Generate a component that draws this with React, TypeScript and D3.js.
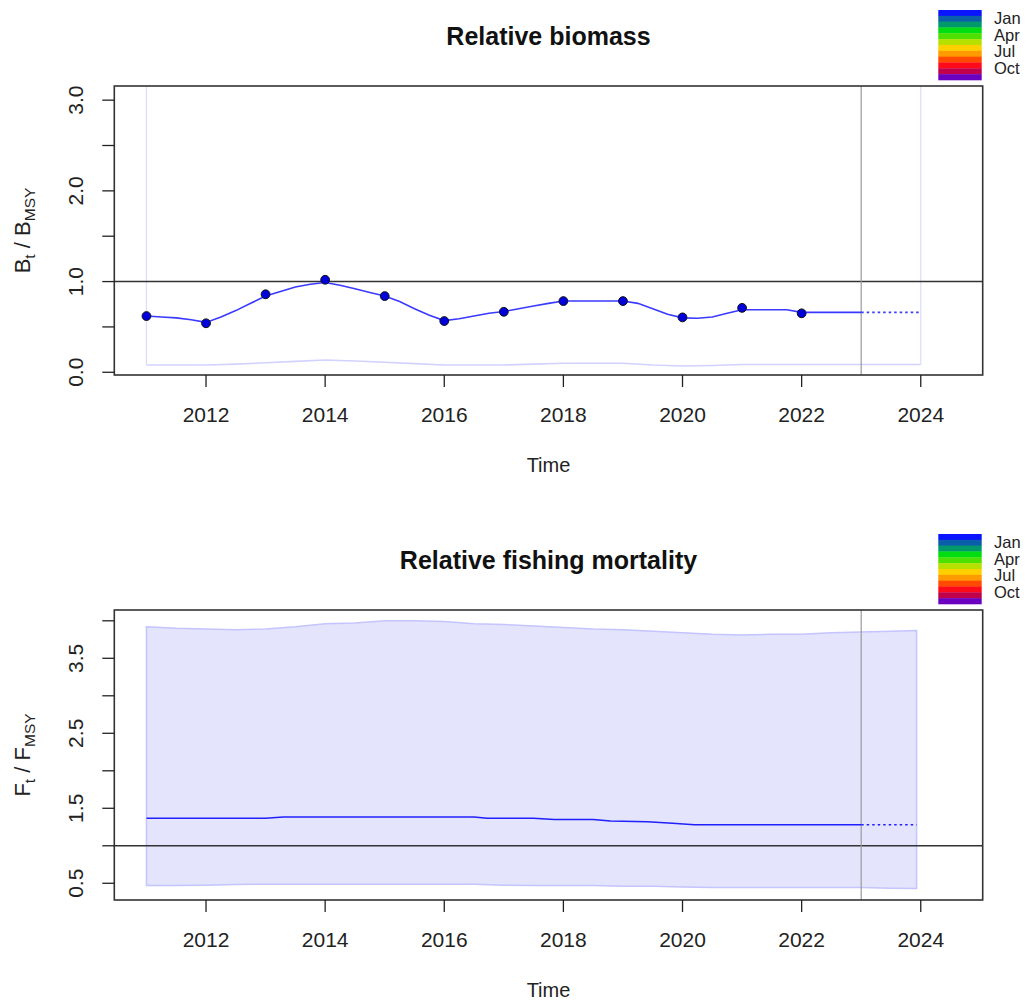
import React from "react";
import * as d3 from "d3";

// ---------- DATA ----------
const monthLabels = ["Jan", "Apr", "Jul", "Oct"];
const monthColors = [
  "#0a14ff", "#0a5fa8", "#009a6a", "#00dd10", "#4ee000", "#b6e000",
  "#ffd000", "#ff9a00", "#ff4a00", "#ff0a1a", "#c0004a", "#6a00c0",
];

const bioYears = [2011, 2012, 2013, 2014, 2015, 2016, 2017, 2018, 2019, 2020, 2021, 2022];
const bioPoints = [0.62, 0.54, 0.86, 1.02, 0.84, 0.565, 0.667, 0.785, 0.785, 0.605, 0.71, 0.65];

const bioLineTimes = d3.range(2011, 2023.001, 0.25);
const bioLine = [
  0.62, 0.61, 0.6, 0.58,
  0.55, 0.61, 0.68, 0.76,
  0.84, 0.89, 0.94, 0.97,
  0.99, 0.96, 0.92, 0.88,
  0.84, 0.78, 0.7, 0.63,
  0.57, 0.59, 0.62, 0.65,
  0.67, 0.7, 0.73, 0.76,
  0.785, 0.785, 0.785, 0.785,
  0.785, 0.76, 0.7, 0.64,
  0.6, 0.595, 0.61, 0.65,
  0.69, 0.69, 0.69, 0.69,
  0.66, 0.66, 0.66, 0.66,
  0.66,
];
const bioForecastTimes = [2023, 2024];
const bioForecast = [0.66, 0.66];

const bioCITimes = [
  2011, 2011.5, 2012, 2012.5, 2013, 2013.5, 2014, 2014.5, 2015, 2015.5, 2016, 2016.5,
  2017, 2017.5, 2018, 2018.5, 2019, 2019.5, 2020, 2020.5, 2021, 2021.5, 2022, 2022.5,
  2023, 2023.5, 2024,
];
const bioLower = [
  0.08, 0.08, 0.08, 0.09, 0.105, 0.12, 0.135, 0.125, 0.11, 0.095, 0.08, 0.08,
  0.08, 0.09, 0.1, 0.1, 0.1, 0.08, 0.07, 0.075, 0.085, 0.085, 0.085, 0.085,
  0.085, 0.085, 0.085,
];

const fCITimes = [
  2011, 2011.5, 2012, 2012.5, 2013, 2013.5, 2014, 2014.5, 2015, 2015.5, 2016, 2016.5,
  2017, 2017.5, 2018, 2018.5, 2019, 2019.5, 2020, 2020.5, 2021, 2021.5, 2022, 2022.5,
  2023, 2023.5, 2023.93,
];
const fUpper = [
  3.92, 3.9, 3.89, 3.88, 3.89, 3.92, 3.96, 3.97, 4.0, 4.0, 3.99, 3.96,
  3.95, 3.93, 3.91, 3.89, 3.88, 3.86, 3.84, 3.82, 3.81, 3.82, 3.82, 3.84,
  3.85, 3.86, 3.87,
];
const fLower = [
  0.47, 0.47, 0.475, 0.485, 0.487, 0.487, 0.487, 0.487, 0.487, 0.487, 0.487, 0.487,
  0.475, 0.47, 0.47, 0.47, 0.46, 0.46, 0.45, 0.445, 0.445, 0.445, 0.445, 0.445,
  0.445, 0.435, 0.43,
];
const fLineTimes = [
  2011, 2011.5, 2012, 2012.5, 2013, 2013.3, 2013.5, 2014, 2014.5, 2015, 2015.5, 2016,
  2016.5, 2016.72, 2017, 2017.5, 2017.85, 2018.5, 2018.79, 2019.41, 2019.83, 2020.2,
  2021, 2022, 2023,
];
const fLine = [
  1.367, 1.367, 1.367, 1.367, 1.367, 1.384, 1.384, 1.384, 1.384, 1.384, 1.384, 1.384,
  1.384, 1.367, 1.367, 1.367, 1.35, 1.35, 1.33, 1.32, 1.3, 1.28,
  1.28, 1.28, 1.28,
];
const fForecastTimes = [2023, 2023.93];
const fForecast = [1.28, 1.28];

const xTicks = [2012, 2014, 2016, 2018, 2020, 2022, 2024];
const bioYTicks = [0, 0.5, 1, 1.5, 2, 2.5, 3];
const bioYLabels = ["0.0", "1.0", "2.0", "3.0"];
const fYTicks = [0.5, 1, 1.5, 2, 2.5, 3, 3.5, 4];
const fYLabels = ["0.5", "1.5", "2.5", "3.5"];

// ---------- LAYOUT ----------
const FONT = "'Liberation Sans', Arial, Helvetica, sans-serif";
const L = 114.3;
const R = 982.7;
const xDomain: [number, number] = [2010.46, 2025.04];

function Legend({ y0 }: { y0: number }) {
  const band = d3.scaleBand<number>().domain(d3.range(monthColors.length)).range([y0, y0 + 70]);
  return (
    <g>
      {monthColors.map((c, i) => (
        <rect key={i} x={938.3} y={band(i)!} width={43.4} height={band.bandwidth() + 0.3} fill={c} />
      ))}
      {monthLabels.map((m, i) => (
        <text key={m} x={994} y={y0 + 14 + i * 16.7} fontSize={16.5} fontFamily={FONT} fill="#222">
          {m}
        </text>
      ))}
    </g>
  );
}

function XAxis({ x, yBottom }: { x: d3.ScaleLinear<number, number>; yBottom: number }) {
  return (
    <g>
      {xTicks.map((t) => (
        <g key={t}>
          <line x1={x(t)} x2={x(t)} y1={yBottom} y2={yBottom + 12} stroke="#222" strokeWidth={1.3} />
          <text x={x(t)} y={yBottom + 47} fontSize={21} textAnchor="middle" fontFamily={FONT} fill="#222">
            {t}
          </text>
        </g>
      ))}
      <text x={(L + R) / 2} y={yBottom + 97} fontSize={20} textAnchor="middle" fontFamily={FONT} fill="#222">
        Time
      </text>
    </g>
  );
}

function YAxis({
  y,
  ticks,
  labels,
}: {
  y: d3.ScaleLinear<number, number>;
  ticks: number[];
  labels: string[];
}) {
  return (
    <g>
      {ticks.map((t) => (
        <line key={t} x1={L - 12} x2={L} y1={y(t)} y2={y(t)} stroke="#222" strokeWidth={1.3} />
      ))}
      {labels.map((lab) => (
        <text
          key={lab}
          transform={`translate(83,${y(+lab)}) rotate(-90)`}
          fontSize={21}
          textAnchor="middle"
          fontFamily={FONT}
          fill="#222"
        >
          {lab}
        </text>
      ))}
    </g>
  );
}

function YLabel({ letter, cy }: { letter: string; cy: number }) {
  return (
    <text transform={`translate(30,${cy}) rotate(-90)`} fontSize={22} textAnchor="middle" fontFamily={FONT} fill="#222">
      {letter}
      <tspan fontSize={15.5} dy={5}>t</tspan>
      <tspan dy={-5}> / {letter}</tspan>
      <tspan fontSize={15.5} dy={5}>MSY</tspan>
    </text>
  );
}

function BiomassPanel() {
  const top = 86;
  const bottom = 375;
  const x = d3.scaleLinear().domain(xDomain).range([L, R]);
  const y = d3.scaleLinear().domain([-0.03, 3.156]).range([bottom, top]);
  const line = d3.line<[number, number]>().x((d) => x(d[0])).y((d) => y(d[1]));
  const lowerPts: [number, number][] = bioCITimes.map((t, i) => [t, bioLower[i]]);
  const ciColor = "#d2d2ff";
  return (
    <g>
      <defs>
        <clipPath id="clipB">
          <rect x={L} y={top} width={R - L} height={bottom - top} />
        </clipPath>
      </defs>
      <text x={(L + R) / 2} y={45} fontSize={25} fontWeight="bold" textAnchor="middle" fontFamily={FONT} fill="#111">
        Relative biomass
      </text>
      <g clipPath="url(#clipB)">
        <path d={line(lowerPts)!} fill="none" stroke={ciColor} strokeWidth={1.6} />
        <line x1={x(bioCITimes[0])} x2={x(bioCITimes[0])} y1={y(bioLower[0])} y2={top} stroke="#dcdcff" strokeWidth={1.2} />
        <line
          x1={x(bioCITimes[bioCITimes.length - 1])}
          x2={x(bioCITimes[bioCITimes.length - 1])}
          y1={y(bioLower[bioLower.length - 1])}
          y2={top}
          stroke="#dcdcff"
          strokeWidth={1.2}
        />
        <line x1={L} x2={R} y1={y(1)} y2={y(1)} stroke="#333" strokeWidth={1.5} />
        <line x1={x(2023)} x2={x(2023)} y1={top} y2={bottom} stroke="#999" strokeWidth={1.2} />
        <path
          d={line(bioLineTimes.map((t, i) => [t, bioLine[i]] as [number, number]))!}
          fill="none"
          stroke="#3a3aff"
          strokeWidth={1.6}
        />
        <path
          d={line(bioForecastTimes.map((t, i) => [t, bioForecast[i]] as [number, number]))!}
          fill="none"
          stroke="#3a3aff"
          strokeWidth={1.6}
          strokeDasharray="2.5,3"
        />
        {bioYears.map((t, i) => (
          <circle key={t} cx={x(t)} cy={y(bioPoints[i])} r={4.4} fill="#0000dd" stroke="#111" strokeWidth={1} />
        ))}
      </g>
      <rect x={L} y={top} width={R - L} height={bottom - top} fill="none" stroke="#333" strokeWidth={1.6} />
      <XAxis x={x} yBottom={bottom} />
      <YAxis y={y} ticks={bioYTicks} labels={bioYLabels} />
      <YLabel letter="B" cy={(top + bottom) / 2} />
      <Legend y0={10} />
    </g>
  );
}

function FPanel() {
  const top = 610;
  const bottom = 900;
  const x = d3.scaleLinear().domain(xDomain).range([L, R]);
  const y = d3.scaleLinear().domain([0.277, 4.144]).range([bottom, top]);
  const line = d3.line<[number, number]>().x((d) => x(d[0])).y((d) => y(d[1]));
  const area = d3
    .area<number>()
    .x((d, i) => x(fCITimes[i]))
    .y0((d, i) => y(fLower[i]))
    .y1((d) => y(d));
  const ciColor = "#c4c4ff";
  return (
    <g>
      <text x={(L + R) / 2} y={569} fontSize={25} fontWeight="bold" textAnchor="middle" fontFamily={FONT} fill="#111">
        Relative fishing mortality
      </text>
      <path d={area(fUpper)!} fill="#e4e4fd" stroke={ciColor} strokeWidth={1.5} />
      <line x1={L} x2={R} y1={y(1)} y2={y(1)} stroke="#333" strokeWidth={1.5} />
      <line x1={x(2023)} x2={x(2023)} y1={top} y2={bottom} stroke="#999" strokeWidth={1.2} />
      <path
        d={line(fLineTimes.map((t, i) => [t, fLine[i]] as [number, number]))!}
        fill="none"
        stroke="#2020ff"
        strokeWidth={1.6}
      />
      <path
        d={line(fForecastTimes.map((t, i) => [t, fForecast[i]] as [number, number]))!}
        fill="none"
        stroke="#2020ff"
        strokeWidth={1.6}
        strokeDasharray="2.5,3"
      />
      <rect x={L} y={top} width={R - L} height={bottom - top} fill="none" stroke="#333" strokeWidth={1.6} />
      <XAxis x={x} yBottom={bottom} />
      <YAxis y={y} ticks={fYTicks} labels={fYLabels} />
      <YLabel letter="F" cy={(top + bottom) / 2} />
      <Legend y0={534} />
    </g>
  );
}

export default function App() {
  return (
    <svg
      width={1026}
      height={1000}
      viewBox="0 0 1026 1000"
      style={{ position: "absolute", left: 0, top: 0, background: "#fff" }}
    >
      <rect width={1026} height={1000} fill="#fff" />
      <BiomassPanel />
      <FPanel />
    </svg>
  );
}
